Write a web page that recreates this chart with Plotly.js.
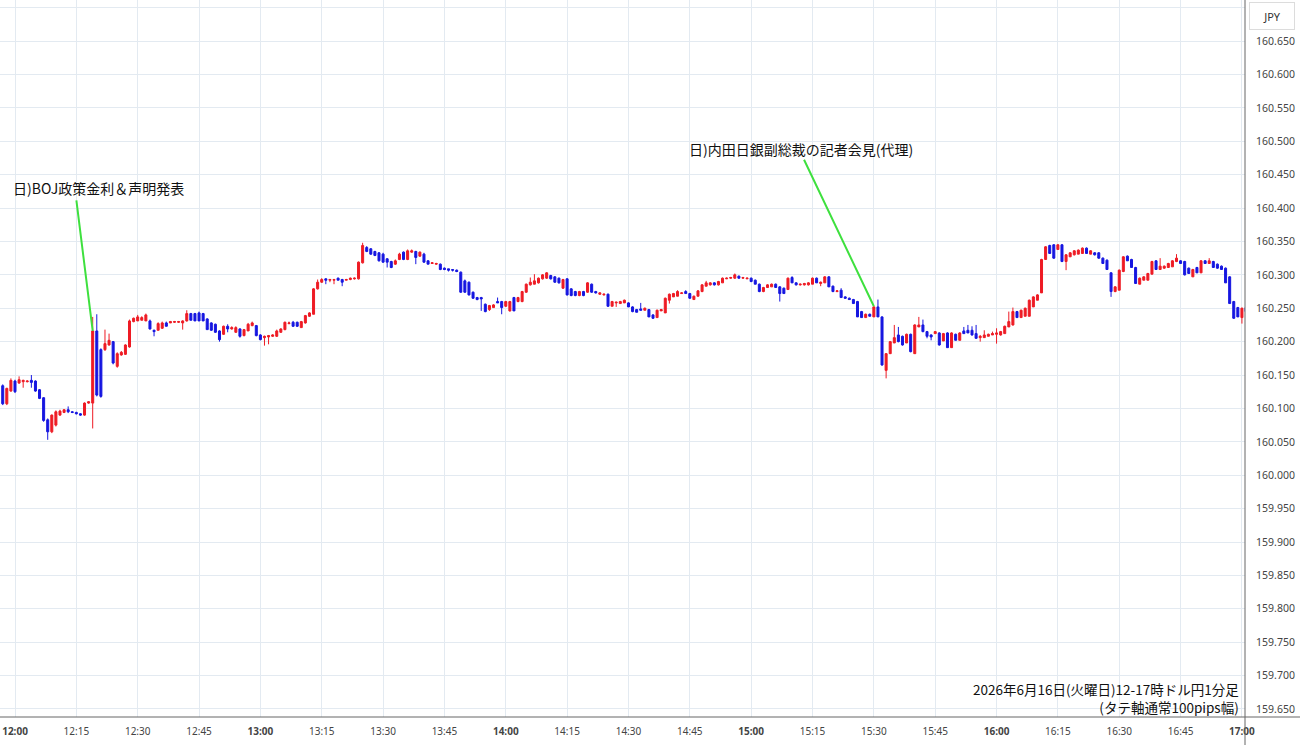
<!DOCTYPE html>
<html>
<head>
<meta charset="utf-8">
<script src="https://cdn.plot.ly/plotly-3.0.1.min.js"></script>
<style>
html,body{margin:0;padding:0;background:#fff;}
#chart{width:1300px;height:745px;}
</style>
</head>
<body>
<div id="chart"></div>
<script>
// 1-minute USD/JPY candles, first candle at 11:57, one per minute
const firstMinuteOffset = -3; // minutes relative to 12:00
const open = [
160.134,160.107,160.126,160.141,160.138,160.140,160.140,160.142,160.141,160.128,
160.116,160.083,160.065,160.075,160.090,160.094,160.098,160.095,160.094,160.092,
160.090,160.108,160.108,160.216,160.188,160.188,160.195,160.200,160.163,160.180,
160.181,160.192,160.230,160.231,160.232,160.231,160.231,160.217,160.217,160.220,
160.228,160.228,160.229,160.229,160.228,160.231,160.242,160.242,160.243,160.242,
160.234,160.228,160.226,160.216,160.211,160.223,160.219,160.214,160.219,160.209,
160.216,160.224,160.224,160.210,160.206,160.207,160.208,160.208,160.214,160.218,
160.227,160.229,160.229,160.221,160.228,160.238,160.241,160.279,160.289,160.294,
160.292,160.292,160.295,160.293,160.292,160.293,160.294,160.294,160.318,160.341,
160.339,160.335,160.333,160.331,160.324,160.320,160.316,160.323,160.334,160.323,
160.334,160.335,160.328,160.331,160.321,160.317,160.316,160.316,160.310,160.309,
160.308,160.307,160.304,160.291,160.289,160.274,160.266,160.266,160.256,160.248,
160.251,160.260,160.260,160.253,160.246,160.266,160.260,160.260,160.274,160.285,
160.286,160.288,160.294,160.295,160.299,160.297,160.295,160.280,160.294,160.279,
160.275,160.269,160.275,160.274,160.286,160.275,160.271,160.270,160.271,160.253,
160.258,160.257,160.258,160.258,160.252,160.248,160.249,160.247,160.248,160.240,
160.236,160.246,160.243,160.262,160.267,160.268,160.272,160.275,160.272,160.263,
160.268,160.275,160.283,160.285,160.288,160.285,160.288,160.294,160.295,160.295,
160.298,160.295,160.294,160.295,160.292,160.286,160.275,160.281,160.282,160.286,
160.282,160.280,160.278,160.296,160.288,160.285,160.285,160.285,160.286,160.295,
160.287,160.288,160.297,160.283,160.275,160.277,160.267,160.265,160.263,160.260,
160.245,160.236,160.241,160.237,160.252,160.237,160.157,160.182,160.198,160.210,
160.208,160.198,160.211,160.182,160.222,160.225,160.215,160.210,160.212,160.213,
160.201,160.213,160.191,160.211,160.202,160.216,160.217,160.217,160.212,160.206,
160.206,160.208,160.210,160.211,160.210,160.212,160.222,160.225,160.245,160.236,
160.238,160.238,160.252,160.262,160.273,160.323,160.344,160.345,160.338,160.345,
160.320,160.327,160.330,160.331,160.332,160.340,160.331,160.333,160.333,160.325,
160.322,160.303,160.275,160.277,160.305,160.328,160.323,160.311,160.286,160.292,
160.292,160.301,160.321,160.308,160.310,160.311,160.312,160.320,160.321,160.320,
160.310,160.297,160.311,160.303,160.321,160.317,160.320,160.316,160.313,160.310,
160.297,160.260,160.251,160.236,160.251];
const high = [
160.136,160.131,160.145,160.143,160.148,160.143,160.142,160.150,160.142,160.129,
160.117,160.085,160.091,160.097,160.098,160.099,160.103,160.096,160.095,160.093,
160.109,160.111,160.237,160.241,160.190,160.218,160.212,160.201,160.184,160.186,
160.196,160.233,160.236,160.240,160.238,160.242,160.233,160.218,160.229,160.230,
160.230,160.231,160.231,160.231,160.232,160.247,160.243,160.243,160.245,160.243,
160.235,160.229,160.227,160.217,160.224,160.226,160.223,160.223,160.220,160.219,
160.228,160.230,160.225,160.211,160.209,160.210,160.211,160.218,160.220,160.230,
160.230,160.231,160.230,160.231,160.240,160.244,160.280,160.293,160.295,160.295,
160.294,160.294,160.296,160.294,160.294,160.296,160.296,160.320,160.348,160.343,
160.340,160.336,160.334,160.333,160.325,160.321,160.323,160.333,160.335,160.338,
160.338,160.336,160.335,160.333,160.322,160.319,160.318,160.317,160.311,160.309,
160.308,160.308,160.305,160.293,160.290,160.275,160.267,160.267,160.257,160.255,
160.256,160.266,160.261,160.261,160.261,160.267,160.267,160.276,160.287,160.296,
160.301,160.296,160.301,160.304,160.300,160.298,160.296,160.294,160.295,160.280,
160.276,160.276,160.276,160.289,160.287,160.276,160.274,160.272,160.272,160.261,
160.260,160.261,160.263,160.259,160.253,160.249,160.258,160.251,160.249,160.241,
160.248,160.249,160.266,160.272,160.273,160.277,160.274,160.277,160.273,160.269,
160.277,160.286,160.291,160.289,160.289,160.291,160.296,160.296,160.297,160.302,
160.299,160.297,160.296,160.296,160.293,160.287,160.282,160.286,160.287,160.287,
160.283,160.281,160.296,160.298,160.289,160.287,160.288,160.289,160.296,160.296,
160.290,160.298,160.298,160.284,160.277,160.280,160.268,160.266,160.264,160.261,
160.246,160.242,160.242,160.253,160.263,160.238,160.183,160.201,160.225,160.222,
160.209,160.212,160.212,160.226,160.237,160.233,160.216,160.211,160.216,160.214,
160.213,160.214,160.214,160.212,160.214,160.222,160.225,160.223,160.225,160.210,
160.217,160.212,160.215,160.220,160.216,160.224,160.245,160.251,160.246,160.248,
160.251,160.263,160.268,160.271,160.324,160.343,160.345,160.346,160.346,160.346,
160.331,160.334,160.337,160.338,160.341,160.341,160.337,160.334,160.334,160.326,
160.323,160.304,160.283,160.308,160.328,160.329,160.324,160.312,160.296,160.298,
160.303,160.321,160.322,160.325,160.314,160.318,160.322,160.331,160.322,160.321,
160.311,160.309,160.312,160.322,160.322,160.325,160.321,160.317,160.314,160.311,
160.298,160.261,160.252,160.251,160.252];
const low = [
160.105,160.105,160.125,160.123,160.137,160.131,160.139,160.131,160.125,160.114,
160.080,160.053,160.063,160.073,160.089,160.093,160.093,160.093,160.091,160.089,
160.089,160.107,160.070,160.118,160.116,160.186,160.194,160.166,160.161,160.179,
160.180,160.191,160.229,160.231,160.232,160.231,160.218,160.208,160.217,160.219,
160.223,160.228,160.228,160.228,160.218,160.230,160.232,160.231,160.231,160.231,
160.218,160.216,160.213,160.200,160.210,160.214,160.218,160.213,160.206,160.208,
160.216,160.223,160.208,160.202,160.194,160.196,160.207,160.207,160.213,160.217,
160.226,160.222,160.222,160.221,160.227,160.237,160.241,160.278,160.288,160.286,
160.289,160.286,160.292,160.283,160.292,160.292,160.293,160.293,160.317,160.334,
160.330,160.328,160.320,160.318,160.311,160.310,160.315,160.322,160.322,160.322,
160.333,160.316,160.327,160.318,160.316,160.317,160.315,160.307,160.307,160.305,
160.305,160.304,160.273,160.273,160.269,160.264,160.262,160.246,160.244,160.246,
160.251,160.258,160.241,160.252,160.245,160.246,160.259,160.259,160.273,160.284,
160.286,160.287,160.293,160.294,160.293,160.288,160.287,160.279,160.269,160.268,
160.268,160.268,160.268,160.273,160.273,160.272,160.270,160.269,160.252,160.253,
160.252,160.257,160.258,160.252,160.244,160.244,160.247,160.247,160.237,160.234,
160.236,160.246,160.243,160.257,160.267,160.268,160.272,160.272,160.264,160.263,
160.268,160.274,160.283,160.284,160.284,160.284,160.288,160.294,160.294,160.294,
160.294,160.294,160.294,160.289,160.286,160.274,160.274,160.281,160.282,160.281,
160.260,160.272,160.278,160.288,160.284,160.284,160.284,160.284,160.286,160.288,
160.283,160.288,160.282,160.274,160.274,160.266,160.264,160.263,160.257,160.237,
160.236,160.236,160.238,160.237,160.237,160.164,160.145,160.182,160.198,160.199,
160.194,160.198,160.184,160.182,160.222,160.214,160.205,160.202,160.212,160.194,
160.201,160.191,160.191,160.202,160.202,160.212,160.213,160.209,160.204,160.200,
160.206,160.208,160.210,160.197,160.209,160.212,160.222,160.224,160.236,160.236,
160.238,160.238,160.252,160.262,160.273,160.323,160.332,160.324,160.338,160.319,
160.307,160.327,160.329,160.331,160.332,160.332,160.331,160.329,160.324,160.317,
160.308,160.267,160.274,160.277,160.304,160.321,160.311,160.287,160.286,160.292,
160.292,160.301,160.308,160.308,160.309,160.311,160.312,160.319,160.317,160.299,
160.302,160.297,160.303,160.303,160.317,160.317,160.311,160.309,160.308,160.288,
160.257,160.234,160.237,160.227,160.244];
const close = [
160.107,160.130,160.142,160.125,160.143,160.142,160.141,160.139,160.126,160.115,
160.082,160.065,160.090,160.095,160.096,160.098,160.095,160.094,160.092,160.090,
160.108,160.110,160.216,160.120,160.118,160.197,160.202,160.168,160.182,160.184,
160.195,160.231,160.235,160.237,160.236,160.240,160.219,160.215,160.227,160.228,
160.223,160.230,160.230,160.230,160.231,160.242,160.232,160.231,160.231,160.231,
160.218,160.217,160.214,160.203,160.223,160.219,160.221,160.221,160.208,160.218,
160.226,160.228,160.209,160.203,160.208,160.209,160.210,160.216,160.219,160.229,
160.228,160.223,160.223,160.230,160.239,160.243,160.279,160.289,160.293,160.292,
160.293,160.293,160.292,160.289,160.293,160.295,160.295,160.319,160.344,160.335,
160.331,160.329,160.321,160.319,160.319,160.311,160.321,160.331,160.323,160.336,
160.336,160.326,160.334,160.319,160.316,160.318,160.317,160.308,160.308,160.307,
160.307,160.305,160.274,160.274,160.270,160.265,160.263,160.264,160.245,160.254,
160.255,160.258,160.251,160.260,160.260,160.246,160.266,160.275,160.286,160.289,
160.291,160.295,160.300,160.303,160.294,160.289,160.288,160.293,160.270,160.269,
160.269,160.275,160.269,160.288,160.274,160.273,160.273,160.271,160.253,160.260,
160.259,160.260,160.262,160.252,160.245,160.244,160.247,160.250,160.237,160.235,
160.247,160.248,160.265,160.271,160.272,160.275,160.273,160.272,160.265,160.268,
160.276,160.285,160.288,160.288,160.285,160.290,160.295,160.295,160.296,160.300,
160.295,160.296,160.295,160.290,160.286,160.275,160.281,160.285,160.286,160.281,
160.272,160.272,160.295,160.288,160.285,160.286,160.287,160.288,160.295,160.288,
160.289,160.297,160.282,160.275,160.276,160.266,160.265,160.263,160.257,160.237,
160.236,160.241,160.238,160.252,160.237,160.165,160.182,160.200,160.206,160.200,
160.195,160.211,160.185,160.225,160.225,160.215,160.208,160.207,160.215,160.195,
160.212,160.191,160.213,160.202,160.213,160.212,160.213,160.210,160.205,160.208,
160.210,160.211,160.212,160.213,160.215,160.223,160.230,160.245,160.236,160.247,
160.250,160.262,160.267,160.270,160.323,160.342,160.332,160.325,160.345,160.320,
160.330,160.333,160.336,160.337,160.340,160.332,160.336,160.330,160.325,160.317,
160.308,160.275,160.282,160.307,160.327,160.321,160.311,160.287,160.295,160.297,
160.302,160.320,160.308,160.313,160.313,160.317,160.321,160.325,160.317,160.300,
160.302,160.308,160.303,160.321,160.317,160.321,160.311,160.310,160.308,160.288,
160.257,160.235,160.237,160.250,160.245];

const xTickTimes = ['12:00','12:15','12:30','12:45','13:00','13:15','13:30','13:45','14:00','14:15','14:30','14:45','15:00','15:15','15:30','15:45','16:00','16:15','16:30','16:45','17:00'];
const yTickVals = [159.65,159.70,159.75,159.80,159.85,159.90,159.95,160.00,160.05,160.10,160.15,160.20,160.25,160.30,160.35,160.40,160.45,160.50,160.55,160.60,160.65,160.70];
const yTickLabels = ['159.650','159.700','159.750','159.800','159.850','159.900','159.950','160.000','160.050','160.100','160.150','160.200','160.250','160.300','160.350','160.400','160.450','160.500','160.550','160.600','160.650',''];

const eventLabels = ['日)BOJ政策金利＆声明発表', '日)内田日銀副総裁の記者会見(代理)'];
const eventCandleMinute = [19, 210]; // candle (minutes after 12:00) each note points at
const captionLines = ['2026年6月16日(火曜日)12-17時ドル円1分足', '(タテ軸通常100pips幅)'];
const currencyLabel = 'JPY';

const DAY = '2026-06-16 ';
function stamp(m){
  const tot = 720 + m;
  const hh = Math.floor(tot/60), mm = tot % 60;
  return DAY + String(hh).padStart(2,'0') + ':' + String(mm).padStart(2,'0');
}
const times = open.map((_, i) => stamp(i + firstMinuteOffset));

const RED = '#ee1b24', BLUE = '#1616e0', GRID = '#e3eaf1', GREEN = '#3ee03e';
const CJK = '"Noto Sans CJK JP", "Noto Sans", sans-serif';

const trace = {
  type: 'candlestick', x: times, open: open, high: high, low: low, close: close,
  increasing: {line: {color: RED, width: 1}, fillcolor: RED},
  decreasing: {line: {color: BLUE, width: 1}, fillcolor: BLUE},
  whiskerwidth: 0, hoverinfo: 'skip', showlegend: false
};

const idx = m => m - firstMinuteOffset;
const e0 = idx(eventCandleMinute[0]), e1 = idx(eventCandleMinute[1]);

const annotations = [
  {x: times[e0], y: close[e0], xref: 'x', yref: 'y', text: '', showarrow: true,
   ax: -16.5, ay: -132, arrowhead: 0, arrowwidth: 2, arrowcolor: GREEN, standoff: 0, startstandoff: 0},
  {x: times[e0], y: close[e0], xref: 'x', yref: 'y', text: eventLabels[0], showarrow: false,
   xanchor: 'left', yanchor: 'middle', xshift: -82, yshift: 143, font: {family: CJK, size: 14, color: '#111'}},
  {x: times[e1], y: high[e1], xref: 'x', yref: 'y', text: '', showarrow: true,
   ax: -70.5, ay: -148, arrowhead: 0, arrowwidth: 2, arrowcolor: GREEN, standoff: 0, startstandoff: 0},
  {x: times[e1], y: high[e1], xref: 'x', yref: 'y', text: eventLabels[1], showarrow: false,
   xanchor: 'left', yanchor: 'middle', xshift: -187, yshift: 157, font: {family: CJK, size: 14, color: '#111'}},
  {x: 1241/1245, y: 1 - 697.5/717, xref: 'paper', yref: 'paper',
   text: captionLines.join('<br>'), showarrow: false, align: 'right',
   xanchor: 'right', yanchor: 'middle', font: {family: CJK, size: 13.5, color: '#111'}},
  {x: 1272/1245, y: 1 - 16/717, xref: 'paper', yref: 'paper', text: currencyLabel, showarrow: false,
   xanchor: 'center', yanchor: 'middle', width: 42, height: 24, bgcolor: '#fff',
   bordercolor: '#dcdcdc', borderwidth: 1, font: {family: 'Noto Sans, sans-serif', size: 11, color: '#333'}}
];

const shapes = [
  {type: 'line', xref: 'paper', yref: 'paper', x0: 0, x1: 1300/1245, y0: 0, y1: 0, line: {color: '#666', width: 1}},
  {type: 'line', xref: 'paper', yref: 'paper', x0: 1, x1: 1, y0: -28/717, y1: 1, line: {color: '#666', width: 1}}
];

const layout = {
  width: 1300, height: 745,
  margin: {l: 0, r: 55, t: 0, b: 28, pad: 0},
  paper_bgcolor: '#fff', plot_bgcolor: '#fff',
  showlegend: false,
  xaxis: {
    type: 'date', range: [DAY + '11:56:20', DAY + '17:00:45'],
    rangeslider: {visible: false},
    tickvals: xTickTimes.map(t => DAY + t),
    ticktext: xTickTimes.map(t => t.endsWith(':00') ? '<b>' + t + '</b>' : t),
    showgrid: true, gridcolor: GRID, gridwidth: 1, zeroline: false, showline: false,
    ticks: 'outside', ticklen: 5, tickcolor: 'rgba(0,0,0,0)',
    tickfont: {family: 'Noto Sans, sans-serif', size: 10, color: '#444'}, fixedrange: true
  },
  yaxis: {
    side: 'right', range: [159.638, 160.7115],
    tickvals: yTickVals, ticktext: yTickLabels,
    showgrid: true, gridcolor: GRID, gridwidth: 1, zeroline: false, showline: false,
    ticks: 'outside', ticklen: 8, tickcolor: 'rgba(0,0,0,0)',
    tickfont: {family: 'Noto Sans, sans-serif', size: 10.5, color: '#444'}, fixedrange: true
  },
  annotations: annotations,
  shapes: shapes
};

Plotly.newPlot('chart', [trace], layout, {displayModeBar: false, staticPlot: true});
</script>
</body>
</html>
